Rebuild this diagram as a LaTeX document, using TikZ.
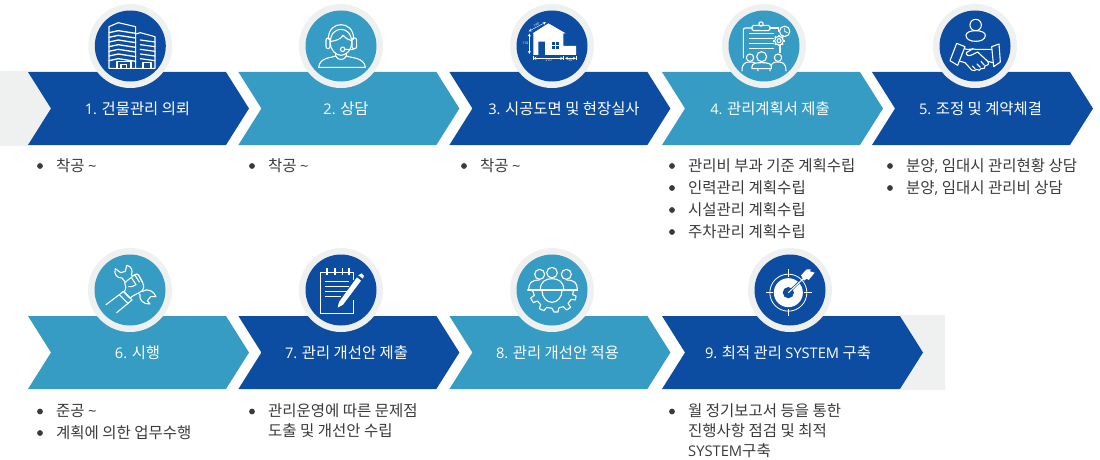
\documentclass[tikz,border=0pt]{standalone}
\usepackage{fontspec}
\setmainfont{Open Sans}
\newfontfamily\kr{Noto Sans CJK KR}
\newfontfamily\opf[Scale=0.95]{Open Sans}
\newcommand{\op}[1]{{\opf #1}}
\definecolor{dkb}{HTML}{0C4DA2}
\definecolor{ltb}{HTML}{369CC3}
\definecolor{pale}{HTML}{EFF1F1}
\definecolor{txt}{HTML}{3A3A3A}
\tikzset{
  title/.style={text=white,font=\fontsize{15.4}{17}\selectfont\kr,inner sep=0pt,anchor=base},
  item/.style={text=txt,font=\fontsize{15.5}{17}\selectfont\kr,inner sep=0pt,anchor=base west},
  ico/.style={draw=white,line width=1.1pt,line join=round,line cap=round},
  icothin/.style={draw=white,line width=.7pt},
}
\newcommand{\chev}[3]{\fill[#3] (#1,#2) -- ++(198,0) -- ++(23,36.5) -- ++(-23,36.5) -- ++(-198,0) -- ++(23,-36.5) -- cycle;}
\newcommand{\badge}[3]{\fill[pale] (#1,#2) circle[radius=42pt]; \fill[#3] (#1,#2) circle[radius=35.5pt];}
\newcommand{\bul}[4]{\fill[txt] (#1-16,#2-5) circle[radius=2.9pt]; \node[item] (#3) at (#1,#2) {#4};}
\newcommand{\person}[4]{% x y headradius width
  \draw[ico] (#1,#2) circle[radius=#3*.3333pt];
  \draw[ico] (#1-#4,#2+#3+#4*1.2) .. controls (#1-#4,#2+#3+4) and (#1-#4*.5,#2+#3+2) .. (#1,#2+#3+2) .. controls (#1+#4*.5,#2+#3+2) and (#1+#4,#2+#3+4) .. (#1+#4,#2+#3+#4*1.2);}
\begin{document}
\begin{tikzpicture}[x=1pt,y=-1pt]
\useasboundingbox (0,0) rectangle (1100,460);
% pale bands
\fill[pale] (0,71) -- (28,71) -- (51,108.5) -- (28,146) -- (0,146) -- cycle;
\fill[pale] (900,315) -- (945,315) -- (945,390) -- (900,390) -- (923,352.5) -- cycle;
% chevrons
\chev{28}{72}{dkb}\chev{238.4}{72}{ltb}\chev{449.4}{72}{dkb}\chev{662}{72}{ltb}\chev{872}{72}{dkb}
\chev{28}{316}{ltb}\chev{238.4}{316}{dkb}\chev{449.4}{316}{ltb}
\fill[dkb] (662,316) -- (900,316) -- (923,352.5) -- (900,389) -- (662,389) -- (685,352.5) -- cycle;
% badges
\badge{130.3}{46}{dkb}\badge{341}{46}{ltb}\badge{552}{46}{dkb}\badge{764}{46}{ltb}\badge{975}{46}{dkb}
\badge{130}{290}{ltb}\badge{341}{290}{dkb}\badge{552}{290}{ltb}\badge{790}{290}{dkb}
% titles
\node[title] (t1) at (137.5,114) {\op{1.} 건물관리 의뢰};
\node[title] (t2) at (346,114) {\op{2.} 상담};
\node[title] (t3) at (564,114) {\op{3.} 시공도면 및 현장실사};
\node[title] (t4) at (770,114) {\op{4.} 관리계획서 제출};
\node[title] (t5) at (980.5,114) {\op{5.} 조정 및 계약체결};
\node[title] (t6) at (137.5,358) {\op{6.} 시행};
\node[title] (t7) at (346.5,358) {\op{7.} 관리 개선안 제출};
\node[title] (t8) at (557.5,358) {\op{8.} 관리 개선안 적용};
\node[title] (t9) at (788,358) {\op{9.} 최적 관리 \op{SYSTEM} 구축};
% lists
\bul{56}{171}{a1}{착공 \op{\textasciitilde}}
\bul{268}{171}{a2}{착공 \op{\textasciitilde}}
\bul{480}{171}{a3}{착공 \op{\textasciitilde}}
\bul{688}{171}{a4}{관리비 부과 기준 계획수립}
\bul{688}{193}{b4}{인력관리 계획수립}
\bul{688}{215}{c4}{시설관리 계획수립}
\bul{688}{237}{d4}{주차관리 계획수립}
\bul{906}{171}{a5}{분양\op{,} 임대시 관리현황 상담}
\bul{906}{193}{b5}{분양\op{,} 임대시 관리비 상담}
\bul{56}{416.5}{a6}{준공 \op{\textasciitilde}}
\bul{56}{438}{b6}{계획에 의한 업무수행}
\bul{268}{416.5}{a7}{관리운영에 따른 문제점}
\node[item] (b7) at (268,436.5) {도출 및 개선안 수립};
\bul{688}{416.5}{a9}{월 정기보고서 등을 통한}
\node[item] (b9) at (688,436.5) {진행사항 점검 및 최적};
\node[item] (c9) at (688,456.5) {\op{SYSTEM}구축};
% icon 1: buildings
\begin{scope}[shift={(130.3,46)},x=.3333pt,y=-.3333pt]
\draw[ico] (-64,67) -- (-64,-58) -- (-36,-70) -- (16,-58) -- (16,67) -- cycle;
\draw[ico] (16,-36) -- (30,-40) -- (74,-28) -- (74,67) -- (16,67);
\foreach \yy in {-44,-30,-16,-2,12,26,40} {\draw[ico,line width=1.3pt] (-64,\yy+4) -- (-36,\yy-2) -- (16,\yy+6);}
\foreach \yy in {-16,-2,12,26,40} {\draw[ico,line width=1.2pt] (30,\yy-2) -- (74,\yy+4);}
\fill[dkb] (-40,46) rectangle (2,67);
\draw[ico] (-40,67) -- (-40,46) -- (2,46) -- (2,67) (-28,67) -- (-28,55) -- (-12,55) -- (-12,67);
\fill[dkb] (38,50) rectangle (62,66);
\draw[ico] (38,67) -- (38,50) -- (62,50) -- (62,67);
\end{scope}
% icon 2: agent
\begin{scope}[shift={(341,46)},x=.3333pt,y=-.3333pt]
\draw[ico] (-32,-10) .. controls (-32,-38) and (-16,-50) .. (0,-50) .. controls (16,-50) and (32,-38) .. (32,-10) .. controls (32,12) and (16,28) .. (0,28) .. controls (-16,28) and (-32,12) .. (-32,-10) -- cycle;
\draw[ico] (-30,-14) .. controls (-12,-16) and (0,-22) .. (6,-32) .. controls (12,-24) and (22,-18) .. (32,-16);
\draw[ico] (-38,-20) .. controls (-38,-52) and (-18,-64) .. (0,-64) .. controls (18,-64) and (38,-52) .. (38,-20);
\draw[ico,rounded corners=2pt] (-45,-24) rectangle (-33,8);
\draw[ico,rounded corners=2pt] (33,-24) rectangle (47,8);
\draw[ico] (40,8) .. controls (38,12) and (22,10) .. (12,10);
\draw[ico] (5,10) circle[radius=2.2pt];
\draw[ico] (-16,22) -- (-16,30) .. controls (-30,36) and (-64,34) .. (-67,64) -- (73,64) .. controls (70,34) and (30,36) .. (16,30) -- (16,22);
\draw[ico] (-16,30) .. controls (-10,44) and (10,44) .. (16,30);
\end{scope}
% icon 3: house
\begin{scope}[shift={(552,46)},x=.3333pt,y=-.3333pt]
\fill[white] (-58,-38) -- (-11,-68) -- (41,-38) -- (34,-38) -- (34,0) -- (72,0) -- (72,27) -- (-21,27) -- (-21,-13) -- (-41,-13) -- (-41,27) -- (-56,27) -- (-56,-38) -- cycle;
\fill[dkb] (0,-13) rectangle (22,10);
\draw[white,line width=.8pt] (11,-13) -- (11,10) (0,-2) -- (22,-2);
\draw[icothin,line width=.4pt,<->,>=stealth] (-68,-38) -- (-68,24);
\draw[icothin,line width=.4pt,<->,>=stealth] (-56,37) -- (34,37);
\draw[icothin,line width=.4pt,<->,>=stealth] (39,37) -- (72,37);
\draw[icothin,line width=.4pt,<->,>=stealth] (-70,-44) -- (-18,-72);
\draw[icothin,line width=.3pt] (-56,30) -- (-56,42) (34,30) -- (34,42) (72,30) -- (72,42);
\node[text=white,font=\fontsize{3.5}{4}\selectfont,inner sep=0pt] (h1) at (-80,-8) {110};
\node[text=white,font=\fontsize{3.5}{4}\selectfont,inner sep=0pt] (h2) at (-10,43) {270};
\node[text=white,font=\fontsize{3.5}{4}\selectfont,inner sep=0pt] (h3) at (55,43) {90};
\node[text=white,font=\fontsize{3.5}{4}\selectfont,inner sep=0pt,rotate=28] (h4) at (-47,-62) {140};
\end{scope}
% icon 4: report
\begin{scope}[shift={(764,46)},x=.3333pt,y=-.3333pt]
\draw[ico,rounded corners=1.5pt] (-36,-46) -- (-36,-62) -- (18,-62) -- (18,-46) -- cycle;
\draw[ico] (-9,-66) circle[radius=2.2pt];
\draw[ico] (-36,-54) -- (-56,-54) .. controls (-60,-54) and (-62,-52) .. (-62,-48) -- (-62,35);
\draw[ico] (18,-54) -- (44,-54) -- (44,-44);
\draw[ico] (48,20) -- (48,-4);
\foreach \yy in {-38,-23,-8,7} {\draw[ico] (-44,\yy) -- (28,\yy);}
\draw[ico,fill=ltb] (62,-44) circle[radius=5.2pt];
\draw[ico,line width=.8pt] (62,-54) -- (62,-44) -- (70,-40);
\foreach \a in {0,45,...,315} {\draw[white,line width=1.7pt] ({45+11*cos(\a)},{-16+11*sin(\a)}) -- ({45+17*cos(\a)},{-16+17*sin(\a)});}
\draw[ico,fill=ltb] (45,-16) circle[radius=4.4pt];
\draw[ico] (45,-16) circle[radius=2pt];
\person{-42}{35}{11}{24}
\person{42}{35}{11}{24}
\draw[ico,fill=ltb] (-7,32) circle[radius=5pt];
\draw[ico,fill=ltb] (-36,68) -- (-36,62) .. controls (-36,52) and (-24,50) .. (-7,50) .. controls (10,50) and (22,52) .. (22,62) -- (22,68) -- cycle;
\end{scope}
% icon 5: handshake
\begin{scope}[shift={(975,46)},x=.3333pt,y=-.3333pt]
\draw[ico] (2,-63) circle[radius=5.7pt];
\draw[ico] (2,-46) .. controls (-16,-46) and (-27,-40) .. (-27,-32) .. controls (-27,-20) and (-14,-14) .. (2,-14) .. controls (18,-14) and (31,-20) .. (31,-32) .. controls (31,-40) and (20,-46) .. (2,-46) -- cycle;
\draw[ico] (-55,-8) -- (-30,2) -- (-52,58) -- (-75,44) -- cycle;
\draw[ico] (50,2) -- (72,-6) -- (76,48) -- (56,62) -- cycle;
\draw[ico] (-32,8) .. controls (-20,14) and (-10,6) .. (2,10) -- (20,10) -- (50,10);
\draw[ico] (-44,46) -- (-30,50) -- (-10,72) .. controls (-4,76) and (2,74) .. (4,70) .. controls (10,76) and (18,72) .. (18,68) .. controls (26,70) and (32,66) .. (30,60) .. controls (38,60) and (44,54) .. (38,46) -- (8,18);
\draw[ico] (8,18) -- (-8,26) .. controls (-18,32) and (-28,28) .. (-26,20) -- (-6,8);
\draw[ico] (38,46) -- (54,50);
\draw[ico] (-8,60) -- (0,68) (6,54) -- (16,64) (18,46) -- (28,58);
\end{scope}
% icon 6: wrench and fist
\begin{scope}[shift={(130,290)},x=.3333pt,y=-.3333pt]
\draw[ico] (-16,-26) -- (-24,-36) .. controls (-38,-34) and (-50,-48) .. (-44,-64) -- (-28,-52) -- (-14,-56) -- (-10,-74) .. controls (4,-72) and (10,-58) .. (4,-46) -- (14,-36);
\draw[ico] (30,-2) -- (38,4) .. controls (50,-6) and (72,2) .. (78,20) -- (62,20) -- (52,32) -- (60,42) .. controls (40,44) and (26,28) .. (30,14) -- (20,6);
\draw[ico,fill=ltb] (-16,-22) -- (4,-38) -- (14,-46) .. controls (20,-50) and (24,-48) .. (26,-44) -- (38,-22) .. controls (44,-10) and (40,0) .. (34,4) .. controls (26,10) and (12,14) .. (0,24) -- (-18,6) .. controls (-10,-4) and (-12,-14) .. (-16,-22) -- cycle;
\draw[ico] (4,-38) -- (18,-16) (14,-46) -- (28,-24) (26,-44) -- (36,-26);
\draw[ico] (18,-16) .. controls (10,-10) and (2,-8) .. (-4,-10);
\draw[ico] (-20,4) -- (6,30) -- (-6,40) -- (-32,14) -- cycle;
\draw[ico] (-32,14) -- (-72,44) (-6,40) -- (-40,68);
\end{scope}
% icon 7: notepad
\begin{scope}[shift={(341,290)},x=.3333pt,y=-.3333pt]
\draw[white,line width=1.5pt,line join=miter] (-62,-53) -- (38,-53) (38,-53) -- (38,-30) (-62,-53) -- (-62,70) -- (38,70) -- (38,18);
\foreach \xx in {-42,-18,5,24} {\draw[white,line width=1.3pt] (\xx,-66) -- (\xx,-46);}
\foreach \yy in {-25,-10,5} {\draw[white,line width=1.1pt] (-48,\yy) -- (24,\yy);}
\draw[white,line width=1.1pt] (-48,20) -- (0,20);
\fill[dkb] (30,-26) -- (50,-26) -- (50,30) -- (30,30) -- cycle;
\fill[white] (-10,53) -- (-6,36) -- (48,-38) -- (60,-28) -- (6,44) -- cycle;
\fill[white] (52,-44) -- (62,-50) .. controls (70,-46) and (70,-40) .. (66,-34) -- cycle;
\end{scope}
% icon 8: team gear
\begin{scope}[shift={(552,290)},x=.3333pt,y=-.3333pt]
\draw[ico] (-37,-47) circle[radius=5pt];
\draw[ico] (43,-47) circle[radius=5pt];
\draw[ico] (0,-52) circle[radius=5.3pt];
\draw[ico] (-70,-2) .. controls (-70,-22) and (-60,-30) .. (-38,-30);
\draw[ico] (76,-2) .. controls (76,-22) and (66,-30) .. (44,-30);
\draw[ico] (-35,-2) .. controls (-35,-24) and (-20,-34) .. (0,-34) .. controls (20,-34) and (35,-24) .. (35,-2);
\draw[ico] (-73,0) -- (77,0);
\draw[ico] (-30,2) .. controls (-30,22) and (-16,37) .. (0,37) .. controls (16,37) and (30,22) .. (30,2);
\draw[ico] (-58,2) -- (-53,16) -- (-64,24) -- (-56,38) -- (-44,33) -- (-34,44) -- (-38,56) -- (-24,62) -- (-16,52) -- (0,55) -- (6,66) -- (18,66) -- (20,54) -- (34,50) -- (44,60) -- (56,52) -- (48,40) -- (58,28) -- (70,30) -- (72,18) -- (62,14) -- (64,2);
\end{scope}
% icon 9: target
\begin{scope}[shift={(790,290)},x=.3333pt,y=-.3333pt]
\draw[white,line width=.8pt] (-5,8) circle[radius=18.5pt];
\draw[white,line width=.9pt] (-5,-62) -- (-5,-40) (-5,56) -- (-5,78) (-73,8) -- (-50,8) (43,8) -- (66,8);
\fill[white] (-5,8) circle[radius=14.5pt];
\fill[dkb] (-5,8) circle[radius=5.6pt];
\draw[dkb,line width=2.4pt] (-5,8) -- (26,-22);
\draw[white,line width=1pt] (-5,8) -- (42,-36);
\fill[white] (33,-44) -- (50,-62) -- (62,-62) -- (60,-56) -- (74,-52) -- (56,-30) -- (50,-34) -- (42,-28) -- cycle;
\end{scope}
\end{tikzpicture}
\end{document}
